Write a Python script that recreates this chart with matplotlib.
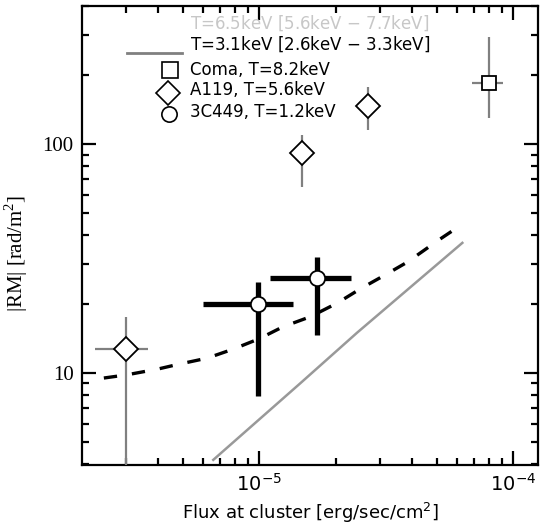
import matplotlib
matplotlib.use("Agg")
import matplotlib.pyplot as plt
import numpy as np
from matplotlib.ticker import LogLocator, NullFormatter, FixedLocator

# ---- data ----
dash_x = [2.45e-6, 3.0e-6, 4.0e-6, 4.8e-6, 6.24e-6, 7.9e-6, 1.0e-5, 1.24e-5, 1.59e-5,
          2.03e-5, 2.5e-5, 3.13e-5, 3.83e-5, 5.07e-5, 5.8e-5, 6.3e-5]
dash_y = [9.5, 9.8, 10.4, 10.9, 11.6, 12.7, 14.1, 15.9, 17.6,
          20.2, 23.3, 26.8, 30.5, 38.0, 42.0, 44.3]

solid_x = [6.6e-6, 1.45e-5, 2.43e-5, 6.3e-5]
solid_y = [4.17, 9.0, 15.0, 37.0]

a119_x = [3.0e-6, 1.48e-5, 2.69e-5]
a119_y = [12.7, 91.0, 147.0]
a119_xlo = [2.26e-6, 1.44e-5, 2.62e-5]
a119_xhi = [3.66e-6, 1.52e-5, 2.76e-5]
a119_ylo = [1.0, 65.0, 115.0]
a119_yhi = [17.6, 109.0, 177.0]

coma_x = [8.05e-5]
coma_y = [185.0]
coma_xlo = [6.9e-5]
coma_xhi = [9.14e-5]
coma_ylo = [130.0]
coma_yhi = [293.0]

c3_x = [9.9e-6, 1.69e-5]
c3_y = [20.0, 26.0]
c3_xlo = [6.0e-6, 1.10e-5]
c3_xhi = [1.36e-5, 2.30e-5]
c3_ylo = [7.9, 14.7]
c3_yhi = [24.9, 32.0]

legend_texts = ["T=6.5keV [5.6keV $-$ 7.7keV]",
                "T=3.1keV [2.6keV $-$ 3.3keV]",
                "Coma, T=8.2keV",
                "A119, T=5.6keV",
                "3C449, T=1.2keV"]

fig = plt.figure(figsize=(5.41, 5.30), dpi=100)
ax = fig.add_axes([82/541, 65/530, 456/541, 459/530])
ax.set_xscale("log")
ax.set_yscale("log")
ax.set_xlim(2.01e-6, 1.25e-4)
ax.set_ylim(3.96, 401)

# model curves
ax.plot(dash_x, dash_y, color="black", lw=2.4, dashes=(4.0, 4.5), zorder=2)
ax.plot(solid_x, solid_y, color="0.6", lw=1.8, zorder=2)

def errs(x, y, xlo, xhi, ylo, yhi):
    x = np.array(x); y = np.array(y)
    return ([x - np.array(xlo), np.array(xhi) - x], [y - np.array(ylo), np.array(yhi) - y])

xe, ye = errs(a119_x, a119_y, a119_xlo, a119_xhi, a119_ylo, a119_yhi)
ax.errorbar(a119_x, a119_y, xerr=xe, yerr=ye, fmt="none", ecolor="0.5", elinewidth=1.6, zorder=3)
ax.plot(a119_x, a119_y, "D", ms=12, mfc="white", mec="black", mew=1.3, zorder=5, ls="none")

xe, ye = errs(coma_x, coma_y, coma_xlo, coma_xhi, coma_ylo, coma_yhi)
ax.errorbar(coma_x, coma_y, xerr=xe, yerr=ye, fmt="none", ecolor="0.5", elinewidth=1.6, zorder=3)
ax.plot(coma_x, coma_y, "s", ms=10, mfc="white", mec="black", mew=1.3, zorder=5, ls="none")

xe, ye = errs(c3_x, c3_y, c3_xlo, c3_xhi, c3_ylo, c3_yhi)
ax.errorbar(c3_x, c3_y, xerr=xe, yerr=ye, fmt="none", ecolor="black", elinewidth=3.8, zorder=3)
ax.plot(c3_x, c3_y, "o", ms=11, mfc="white", mec="black", mew=1.3, zorder=5, ls="none")

# legend (manual)
tr = ax.transAxes
fs = 12
ax.text(0.237, 0.963, legend_texts[0], transform=tr, fontsize=fs, color="0.78", va="center", ha="left")
ax.plot([0.099, 0.219], [0.898, 0.898], transform=tr, color="0.5", lw=2.0)
ax.text(0.237, 0.917, legend_texts[1], transform=tr, fontsize=fs, va="center", ha="left")
ax.plot([0.193], [0.860], "s", transform=tr, ms=11, mfc="white", mec="black", mew=1.2)
ax.text(0.237, 0.860, legend_texts[2], transform=tr, fontsize=fs, va="center", ha="left")
ax.plot([0.189], [0.811], "D", transform=tr, ms=12, mfc="white", mec="black", mew=1.2)
ax.text(0.237, 0.817, legend_texts[3], transform=tr, fontsize=fs, va="center", ha="left")
ax.plot([0.191], [0.765], "o", transform=tr, ms=11, mfc="white", mec="black", mew=1.2)
ax.text(0.237, 0.769, legend_texts[4], transform=tr, fontsize=fs, va="center", ha="left")

# ticks
ax.yaxis.set_major_locator(FixedLocator([10, 100]))
ax.set_yticklabels(["10", "100"], fontfamily="Liberation Serif", fontsize=15)
ax.yaxis.set_minor_locator(LogLocator(base=10, subs=np.arange(2, 10)))
ax.yaxis.set_minor_formatter(NullFormatter())
ax.xaxis.set_major_locator(FixedLocator([1e-5, 1e-4]))
ax.set_xticklabels([r"$\mathregular{10^{-5}}$", r"$\mathregular{10^{-4}}$"], fontsize=14)
ax.xaxis.set_minor_locator(LogLocator(base=10, subs=np.arange(2, 10)))
ax.xaxis.set_minor_formatter(NullFormatter())
ax.tick_params(which="both", direction="in", top=True, right=True, width=1.6, color="black")
ax.tick_params(which="major", length=10, pad=6)
ax.tick_params(which="minor", length=5)
for s in ax.spines.values():
    s.set_linewidth(1.6)

ax.set_xlabel("Flux at cluster [erg/sec/cm$^\\mathregular{2}$]", fontsize=13, labelpad=4)
ax.set_ylabel("|RM| [rad/m$^\\mathregular{2}$]", fontsize=15, fontfamily="Liberation Serif", labelpad=8)
ax.yaxis.set_label_coords(-0.115, 0.46)

fig.savefig("out.png", dpi=100)
